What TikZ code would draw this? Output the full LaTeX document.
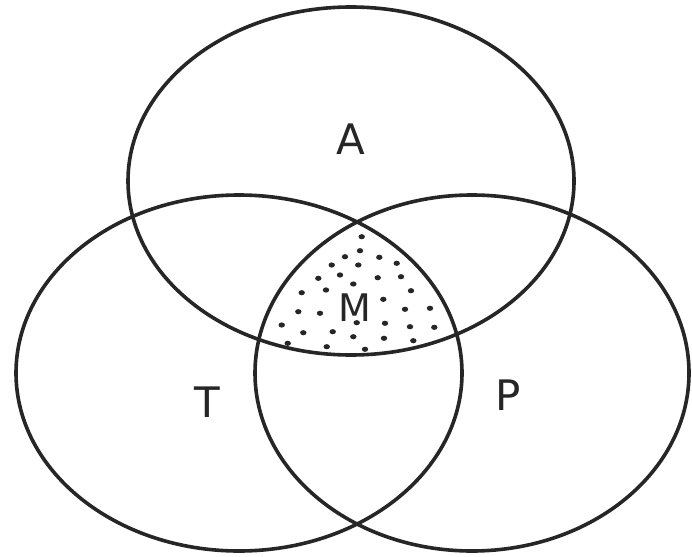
\documentclass[tikz,border=0pt]{standalone}
\usepackage{fontspec}
\setmainfont{DejaVu Sans}
\begin{document}
\begin{tikzpicture}[x=1pt,y=-1pt,
  setline/.style={draw=black!85, line width=3.6pt},
  lbl/.style={font=\fontsize{42}{42}\selectfont, text=black!85, inner sep=0pt},
  stip/.style={fill=black!85}]
\useasboundingbox (0,0) rectangle (692,556);
\fill[white] (0,0) rectangle (692,556);
% stipple in the common region
\begin{scope}
  \clip (351,181) ellipse [x radius=223, y radius=174];
  \clip (239,373) ellipse [x radius=223, y radius=178];
  \clip (472,373) ellipse [x radius=217, y radius=178];
  \foreach \p in {(361.7,236.7),(360,250.7),(345,256.7),(379.3,257.3),(331.7,265),(358.3,265),(396.7,263.3),(340,275),(318.3,278.3),(377.7,277.7),(401,276.7),(353.3,284),(326,290),(301.7,292.7),(411,290.7),(383.3,299.3),(298.3,311.7),(320,313.3),(405,309.3),(430,308.3),(281.7,325),(356.7,322.7),(385,323.3),(303.3,332.7),(332.7,331.7),(410,326.7),(434.3,327.3),(353.3,336.7),(384,338.3),(413.3,340.7),(287.7,343.3),(326.7,346.7),(365,349.3)}
    \fill[stip] \p ellipse [x radius=3.2, y radius=2.6];
\end{scope}
\draw[setline] (351,181) ellipse [x radius=223, y radius=174];
\draw[setline] (239,373) ellipse [x radius=223, y radius=178];
\draw[setline] (472,373) ellipse [x radius=217, y radius=178];
\node[lbl] (a) at (351,139) {A};
\node[lbl,font=\fontsize{38}{38}\selectfont] (m) at (355,308) {M};
\node[lbl] (t) at (207,402) {T};
\node[lbl] (p) at (508,395) {P};
\end{tikzpicture}
\end{document}
